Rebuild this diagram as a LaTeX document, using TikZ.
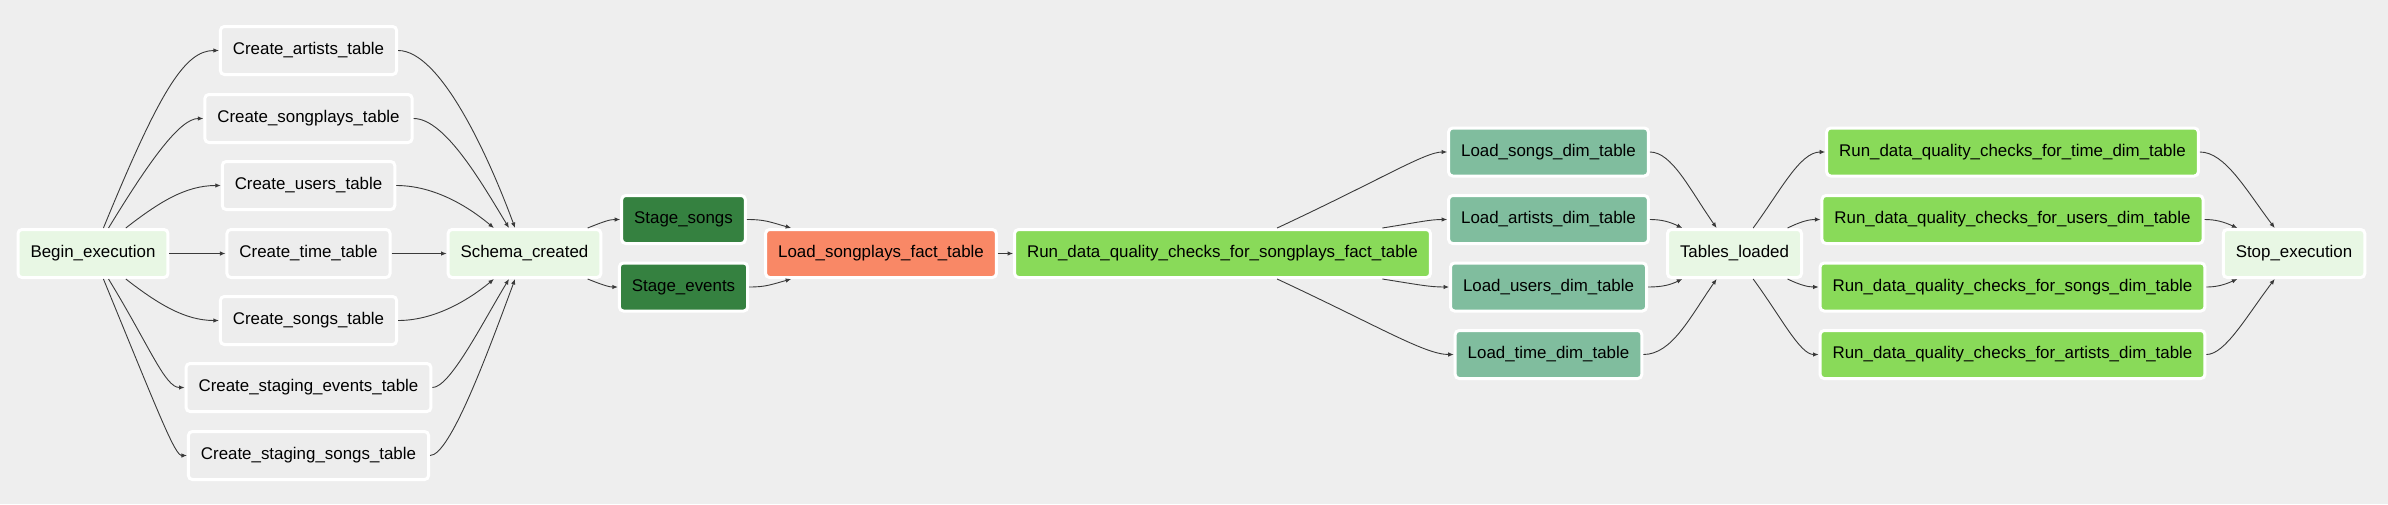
\documentclass[tikz,border=0pt]{standalone}
\usepackage{fontspec}
\setmainfont{Liberation Sans}
\usetikzlibrary{arrows.meta}
\definecolor{bgc}{HTML}{EEEEEE}
\definecolor{dummyc}{HTML}{E8F7E4}
\definecolor{pgc}{HTML}{EDEDED}
\definecolor{stagec}{HTML}{358140}
\definecolor{factc}{HTML}{F98866}
\definecolor{qualc}{HTML}{89DA59}
\definecolor{dimc}{HTML}{80BD9E}
\definecolor{edgec}{HTML}{3A3A3A}
\begin{document}
\begin{tikzpicture}[x=1pt,y=-1pt,
  task/.style={draw=white, line width=3pt, rounded corners=4pt, minimum height=48pt,
    inner xsep=12.5pt, inner ysep=0pt, font=\fontsize{16.9}{20}\selectfont, text=black},
  dummy/.style={task, fill=dummyc},
  pgtask/.style={task, fill=pgc},
  stagetask/.style={task, fill=stagec},
  facttask/.style={task, fill=factc},
  qualtask/.style={task, fill=qualc},
  dimtask/.style={task, fill=dimc},
  edge/.style={draw=edgec, line width=0.9pt, -{Latex[length=5.5pt,width=4.5pt]}}
]
\fill[bgc] (0,0) rectangle (2388,504);
\useasboundingbox (0,0) rectangle (2388,504);

% nodes
\node[dummy] (b) at (93,253.5) {Begin\_execution};
\node[pgtask] (ca) at (308.5,50.5) {Create\_artists\_table};
\node[pgtask] (csp) at (308.5,118.5) {Create\_songplays\_table};
\node[pgtask] (cu) at (308.5,185.5) {Create\_users\_table};
\node[pgtask] (ct) at (308.5,253.5) {Create\_time\_table};
\node[pgtask] (cs) at (308.5,320.5) {Create\_songs\_table};
\node[pgtask] (cse) at (308.5,387.5) {Create\_staging\_events\_table};
\node[pgtask] (css) at (308.5,455.5) {Create\_staging\_songs\_table};
\node[dummy] (sc) at (524.5,253.5) {Schema\_created};
\node[stagetask] (ss) at (683.5,219.5) {Stage\_songs};
\node[stagetask] (se) at (683.5,287) {Stage\_events};
\node[facttask] (lsp) at (881,253.5) {Load\_songplays\_fact\_table};
\node[qualtask] (rsp) at (1222.5,253.5) {Run\_data\_quality\_checks\_for\_songplays\_fact\_table};
\node[dimtask] (lsd) at (1548.5,152) {Load\_songs\_dim\_table};
\node[dimtask] (lad) at (1548.5,219.5) {Load\_artists\_dim\_table};
\node[dimtask] (lud) at (1548.5,287) {Load\_users\_dim\_table};
\node[dimtask] (ltd) at (1548.5,354.5) {Load\_time\_dim\_table};
\node[dummy] (tl) at (1734.5,253.5) {Tables\_loaded};
\node[qualtask] (rt) at (2012.5,152) {Run\_data\_quality\_checks\_for\_time\_dim\_table};
\node[qualtask] (ru) at (2012.5,219.5) {Run\_data\_quality\_checks\_for\_users\_dim\_table};
\node[qualtask] (rs) at (2012.5,287) {Run\_data\_quality\_checks\_for\_songs\_dim\_table};
\node[qualtask] (ra) at (2012.5,354.5) {Run\_data\_quality\_checks\_for\_artists\_dim\_table};
\node[dummy] (stop) at (2294,253.5) {Stop\_execution};

% Begin -> Create
\draw[edge] (b) .. controls (160,90) and (185,50.5) .. (ca.west);
\draw[edge] (b) .. controls (150,160) and (180,118.5) .. (csp.west);
\draw[edge] (b) .. controls (158,203) and (185,185.5) .. (cu.west);
\draw[edge] (b) -- (ct);
\draw[edge] (b) .. controls (158,304) and (185,320.5) .. (cs.west);
\draw[edge] (b) .. controls (150,347) and (165,387.5) .. (cse.west);
\draw[edge] (b) .. controls (160,417) and (175,455.5) .. (css.west);

% Create -> Schema
\draw[edge] (ca.east) .. controls (440,50.5) and (487.5,153.5) .. (sc);
\draw[edge] (csp.east) .. controls (445,118.5) and (482,183.5) .. (sc);
\draw[edge] (cu.east) .. controls (440,185.5) and (476.5,213.5) .. (sc);
\draw[edge] (ct) -- (sc);
\draw[edge] (cs.east) .. controls (440,320.5) and (476.5,293.5) .. (sc);
\draw[edge] (cse.east) .. controls (450,387.5) and (482,323.5) .. (sc);
\draw[edge] (css.east) .. controls (450,455.5) and (487.5,353.5) .. (sc);

% Schema -> Stage
\draw[edge] (sc) .. controls (605,221) and (610,219.5) .. (ss.west);
\draw[edge] (sc) .. controls (605,286) and (610,287) .. (se.west);

% Stage -> fact
\draw[edge] (ss.east) .. controls (765,219.5) and (770,222) .. (lsp);
\draw[edge] (se.east) .. controls (765,287) and (770,285) .. (lsp);

% fact -> quality
\draw[edge] (lsp) -- (rsp);

% quality -> dims
\draw[edge] (rsp) .. controls (1380,180) and (1425,152) .. (lsd.west);
\draw[edge] (rsp) .. controls (1420,222) and (1430,219.5) .. (lad.west);
\draw[edge] (rsp) .. controls (1420,285) and (1430,287) .. (lud.west);
\draw[edge] (rsp) .. controls (1380,327) and (1425,354.5) .. (ltd.west);

% dims -> Tables_loaded
\draw[edge] (lsd.east) .. controls (1672,152) and (1690,190) .. (tl);
\draw[edge] (lad.east) .. controls (1662,219.5) and (1670,222) .. (tl);
\draw[edge] (lud.east) .. controls (1662,287) and (1670,285) .. (tl);
\draw[edge] (ltd.east) .. controls (1672,354.5) and (1690,317) .. (tl);

% Tables_loaded -> quality dims
\draw[edge] (tl) .. controls (1781,190) and (1800,152) .. (rt.west);
\draw[edge] (tl) .. controls (1800,222) and (1808,219.5) .. (ru.west);
\draw[edge] (tl) .. controls (1800,285) and (1808,287) .. (rs.west);
\draw[edge] (tl) .. controls (1781,317) and (1800,354.5) .. (ra.west);

% quality dims -> Stop
\draw[edge] (rt.east) .. controls (2225,152) and (2246,190) .. (stop);
\draw[edge] (ru.east) .. controls (2216,219.5) and (2224,222) .. (stop);
\draw[edge] (rs.east) .. controls (2216,287) and (2224,285) .. (stop);
\draw[edge] (ra.east) .. controls (2225,354.5) and (2246,317) .. (stop);
\end{tikzpicture}
\end{document}
